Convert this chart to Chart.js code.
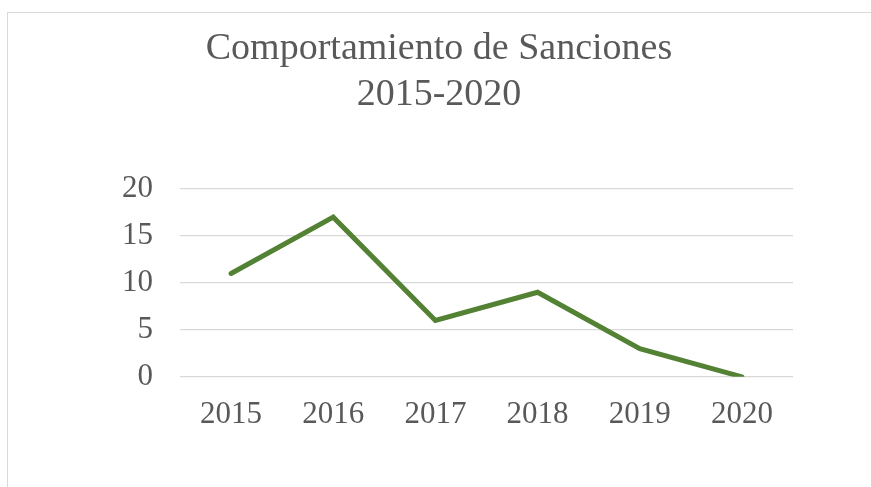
<!DOCTYPE html>
<html lang="es">
<head>
    <meta charset="UTF-8">
    <title>Comportamiento de Sanciones 2015-2020</title>
    <script src="https://cdn.jsdelivr.net/npm/chart.js"></script>
    <style>
        body {
            margin: 0;
            background: #ffffff;
        }

        #frame {
            position: absolute;
            left: 7px;
            top: 12px;
            width: 880px;
            height: 490px;
            border-left: 1px solid #d9d9d9;
            border-top: 1px solid #d9d9d9;
        }

        #sancionesChart {
            position: absolute;
            left: 0;
            top: 0;
        }
    </style>
</head>
<body>

<div id="frame"></div>
<canvas id="sancionesChart" width="871" height="487"></canvas>

<script>
    // Datos del grafico
    var years = ['2015', '2016', '2017', '2018', '2019', '2020'];
    var sanciones = [11, 17, 6, 9, 3, 0];
    var titleLines = ['Comportamiento de Sanciones', '2015-2020'];

    var serif = "'Liberation Serif', 'Times New Roman', serif";
    var textGray = '#595959';

    var ctx = document.getElementById('sancionesChart').getContext('2d');
    var chart = new Chart(ctx, {
        type: 'line',
        data: {
            labels: years,
            datasets: [{
                label: 'Sanciones',
                data: sanciones,
                borderColor: '#548235',
                backgroundColor: '#548235',
                borderWidth: 5,
                borderCapStyle: 'round',
                pointRadius: 0,
                tension: 0,
                fill: false
            }]
        },
        options: {
            responsive: false,
            animation: false,
            layout: {
                padding: { left: 85, right: 78, top: 0, bottom: 35 }
            },
            plugins: {
                legend: { display: false },
                tooltip: { enabled: false },
                title: {
                    display: true,
                    text: titleLines,
                    color: textGray,
                    font: { family: serif, size: 38, weight: 'normal', lineHeight: 1.21 },
                    padding: { top: 26, bottom: 71 }
                }
            },
            scales: {
                x: {
                    offset: true,
                    grid: { display: false, drawTicks: false },
                    border: { display: false },
                    ticks: {
                        color: textGray,
                        font: { family: serif, size: 31 },
                        padding: 19,
                        maxRotation: 0
                    }
                },
                y: {
                    min: 0,
                    max: 20,
                    grid: { color: '#d9d9d9', lineWidth: 1.3, drawTicks: false },
                    border: { display: false },
                    ticks: {
                        stepSize: 5,
                        color: textGray,
                        font: { family: serif, size: 31 },
                        padding: 27
                    },
                    afterFit: function (scale) {
                        scale.width = 95;
                    }
                }
            }
        }
    });
</script>

</body>
</html>
